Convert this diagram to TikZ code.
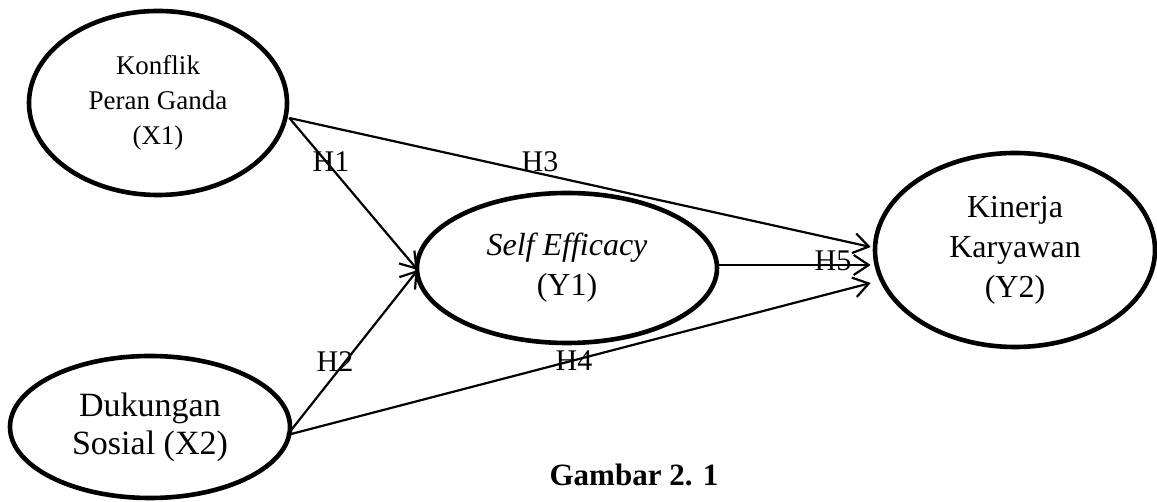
\documentclass[tikz,border=0pt]{standalone}
\usepackage{fontspec}
\setmainfont{Liberation Serif}
\usetikzlibrary{shapes.geometric,arrows.meta}

\begin{document}
\begin{tikzpicture}[x=1pt,y=1pt,
  construct/.style={draw, ellipse, line width=4.6pt, inner sep=0pt, align=center,
    font=\fontsize{32}{40}\selectfont},
  path/.style={line width=2.2pt, -{Straight Barb[length=15pt,width=20pt,line width=2.2pt]}},
  hyp/.style={font=\fontsize{30}{36}\selectfont, inner sep=0pt}
]
\useasboundingbox (0,0) rectangle (1157,502);

% constructs
\node[construct, minimum width=258pt, minimum height=184pt,
      font=\fontsize{27}{35}\selectfont] (x1) at (158,399) {Konflik\\Peran Ganda\\(X1)};
\node[construct, minimum width=280pt, minimum height=142pt,
      font=\fontsize{34}{38}\selectfont] (x2) at (150,75) {Dukungan\\Sosial (X2)};
\node[construct, minimum width=300pt, minimum height=150pt] (y1) at (567,234) {\textit{Self Efficacy}\\(Y1)};
\node[construct, minimum width=280pt, minimum height=194pt] (y2) at (1015,252) {Kinerja\\Karyawan\\(Y2)};

% hypothesised paths
\draw[path] ([yshift=-15pt]x1.east) -- ([xshift=3pt,yshift=-2pt]y1.west);
\draw[path] ([yshift=-15pt]x1.east) -- ([xshift=-2pt,yshift=3pt]y2.west);
\draw[path] ([xshift=-5pt,yshift=-8pt]x2.east) -- ([xshift=3pt,yshift=-2pt]y1.west);
\draw[path] ([xshift=-5pt,yshift=-8pt]x2.east) -- ([xshift=-2pt,yshift=-33pt]y2.west);
\draw[path] ([yshift=3pt]y1.east) -- ([xshift=-2pt,yshift=-15pt]y2.west);

% hypothesis labels
\node[hyp] (h1) at (331,340) {H1};
\node[hyp] (h2) at (335,140) {H2};
\node[hyp] (h3) at (540,340) {H3};
\node[hyp] (h4) at (574,141) {H4};
\node[hyp] (h5) at (833,241) {H5};

% caption
\node[font=\fontsize{31}{36}\selectfont\bfseries, inner sep=0pt] (cap) at (634,27) {Gambar 2. 1};
\end{tikzpicture}
\end{document}
